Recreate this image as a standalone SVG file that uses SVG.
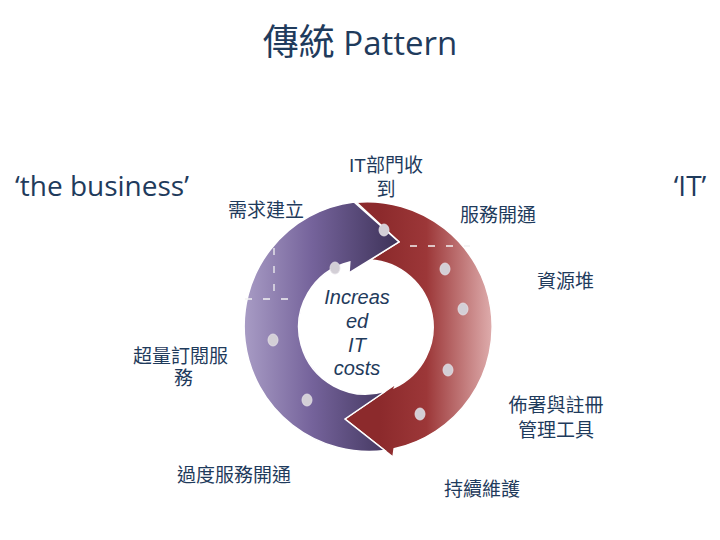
<svg xmlns="http://www.w3.org/2000/svg" width="720" height="540" viewBox="0 0 720 540">
<defs>
<linearGradient id="gp" gradientUnits="userSpaceOnUse" x1="240" y1="0" x2="400" y2="0">
<stop offset="0" stop-color="#ab9fc7"/>
<stop offset="0.45" stop-color="#75639b"/>
<stop offset="1" stop-color="#3c3157"/>
</linearGradient>
<linearGradient id="gr" gradientUnits="userSpaceOnUse" x1="380" y1="0" x2="496" y2="0">
<stop offset="0" stop-color="#8c2a2c"/>
<stop offset="0.4" stop-color="#9c3738"/>
<stop offset="1" stop-color="#e2b3b3"/>
</linearGradient>
</defs>
<style>
.t{font-family:"Liberation Sans","Noto Sans CJK TC","Noto Sans CJK SC",sans-serif;font-size:19px;fill:#1f3b5c}
.e{font-family:"Open Sans","Noto Sans CJK TC",sans-serif;fill:#1f3b5c}
.c{font-family:"Liberation Sans",Arial,sans-serif;font-size:20px;font-style:italic;fill:#1f3b5c;text-anchor:middle}
.arr{stroke:#ffffff;stroke-width:1.5;stroke-linejoin:miter}
.dot{fill:#d3cfd6;stroke:#e6e2e8;stroke-width:0.8}
.dash{fill:none;stroke:#f2f2f2;stroke-width:1.3;stroke-dasharray:7 11}
</style>
<rect width="720" height="540" fill="#ffffff"/>

<g id="title">
<text class="e" x="360" y="55" text-anchor="middle" font-size="33"><tspan font-family="Noto Sans CJK TC,sans-serif" font-size="36">傳統</tspan> Pattern</text>
</g>

<g id="connectors">
<path id="red-arrow" class="arr" fill="url(#gr)" d="M356.4 202.2 A125 125 0 0 1 394.1 448.8 L393 457 L345 419 L396 384 L394.5 387.6 A67 67 0 0 0 370 260 L399 242 Z"/>
<path id="purple-arrow" class="arr" fill="url(#gp)" d="M385.8 391 L345 419 L384.8 450.5 A125 125 0 1 1 354 202 L399 242 L349 273 L349.8 262 A67 67 0 1 0 385.8 391 Z"/>
<line class="dash" x1="245" y1="299" x2="292" y2="299"/>
<line class="dash" x1="274" y1="248" x2="274" y2="292" stroke-dasharray="6 12"/>
<line class="dash" x1="410" y1="246" x2="470" y2="246" stroke-dasharray="6 13"/>
<ellipse class="dot" cx="384" cy="230" rx="5" ry="6"/>
<ellipse class="dot" cx="335" cy="268" rx="5" ry="6"/>
<ellipse class="dot" cx="273" cy="340" rx="5" ry="6"/>
<ellipse class="dot" cx="307" cy="400" rx="5" ry="6"/>
<ellipse class="dot" cx="445" cy="269" rx="5" ry="6"/>
<ellipse class="dot" cx="463" cy="309" rx="5" ry="6"/>
<ellipse class="dot" cx="448" cy="370" rx="5" ry="6"/>
<ellipse class="dot" cx="420" cy="414" rx="5" ry="6"/>
</g>

<g id="center">
<text class="c" x="357" y="304">Increas</text>
<text class="c" x="357" y="328">ed</text>
<text class="c" x="357" y="352">IT</text>
<text class="c" x="357" y="375">costs</text>
</g>

<g id="the-business"><text class="e" x="15" y="196" font-size="28">‘the business’</text></g>
<g id="it"><text class="e" x="690" y="196" font-size="28" text-anchor="middle">‘IT’</text></g>

<g id="n-demand"><text class="t" x="228" y="217">需求建立</text></g>
<g id="n-it-received">
<text class="t" x="386" y="172" text-anchor="middle">IT部門收</text>
<text class="t" x="386" y="196" text-anchor="middle">到</text>
</g>
<g id="n-provision"><text class="t" x="460" y="222">服務開通</text></g>
<g id="n-resource"><text class="t" x="537" y="288">資源堆</text></g>
<g id="n-deploy">
<text class="t" x="556" y="412" text-anchor="middle">佈署與註冊</text>
<text class="t" x="556" y="437" text-anchor="middle">管理工具</text>
</g>
<g id="n-maintain"><text class="t" x="444" y="496">持續維護</text></g>
<g id="n-overprovision"><text class="t" x="177" y="482">過度服務開通</text></g>
<g id="n-oversubscribe">
<text class="t" x="133" y="363">超量訂閱服</text>
<text class="t" x="174" y="385">務</text>
</g>
</svg>
